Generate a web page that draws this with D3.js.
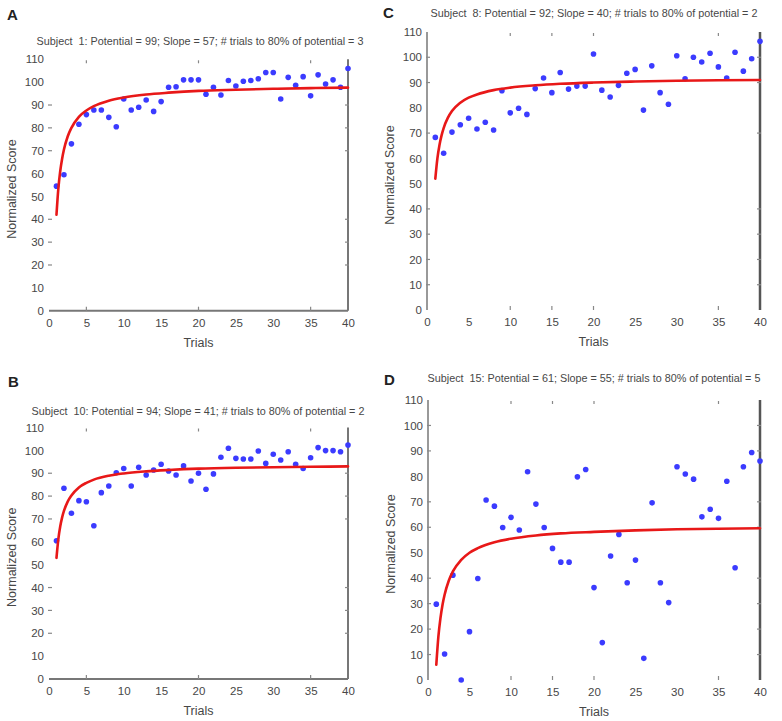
<!DOCTYPE html>
<html>
<head>
<meta charset="utf-8">
<script src="https://cdn.jsdelivr.net/npm/d3@7"></script>
<style>
  html, body { margin: 0; padding: 0; background: #fff; }
  svg { display: block; }
  text { font-family: "Liberation Sans", Arial, sans-serif; }
</style>
</head>
<body>
<svg id="chart" width="782" height="721"></svg>
<script>
// ---------- DATA ----------
const trials = [1,2,3,4,5,6,7,8,9,10,11,12,13,14,15,16,17,18,19,20,
                21,22,23,24,25,26,27,28,29,30,31,32,33,34,35,36,37,38,39,40];

const scoresA = [54.5,59.5,73,81.6,85.8,87.8,87.8,84.6,80.5,92.6,87.8,89,92.2,87.2,91.5,97.8,98,101,101,101,
                 94.7,97.8,94.4,100.7,98.3,100.4,100.7,101.5,104.2,104.2,92.6,102.1,98.6,102.4,94,103.2,99.2,101,97.8,106];
const scoresB = [60.5,83.4,72.5,78,77.5,67,81.5,84.4,90.2,92.1,84.4,92.6,89.2,91.4,93.9,91,89.2,93.2,86.6,90,
                 83,89.7,97,100.9,96.5,96.2,96.2,99.7,94.3,98.3,95.8,99.4,93.9,92.1,96.8,101.2,99.9,99.9,99.4,102.3];
const scoresC = [68.3,62,70.4,73.3,75.9,71.6,74.3,71.2,86.8,78,79.8,77.4,87.6,91.8,86,94,87.4,88.6,88.6,101.3,
                 87,84.3,88.9,93.7,95.2,79.1,96.6,86,81.4,100.6,91.5,100,98.1,101.6,96.2,91.8,102,94.5,99.4,106.3];
const scoresD = [29.8,10.2,41.2,0,19,39.9,70.7,68.3,59.9,63.9,58.9,81.8,69.1,59.9,51.7,46.3,46.3,79.8,82.7,36.3,
                 14.7,48.7,57.2,38.2,47.1,8.5,69.6,38.2,30.4,83.8,80.9,78.9,64.1,67.1,63.5,78.1,44.1,83.8,89.4,86];

// fitted learning curves (red lines) at these trials
const fitTrials = [1,1.25,1.5,1.75,2,2.5,3,4,5,6,8,10,13,16,20,25,30,35,40];
const fitA = [42,53.4,61,66.4,70.5,76.2,80,84.8,87.6,89.5,91.9,93.3,94.6,95.4,96.2,96.7,97.1,97.4,97.6];
const fitB = [53,61.2,66.7,70.6,73.5,77.6,80.3,83.8,85.8,87.2,88.9,89.9,90.8,91.4,92,92.4,92.6,92.8,93];
const fitC = [52,60,65.3,69.1,72,76,78.7,82,84,85.3,87,88,88.9,89.5,90,90.4,90.7,90.9,91];
const fitD = [6,17,24.3,29.6,33.5,39,42.7,47.2,50,51.8,54.1,55.5,56.8,57.6,58.2,58.8,59.2,59.4,59.6];

const panelLetters = ["A","B","C","D"];
const panelTitles = [
  "Subject  1: Potential = 99; Slope = 57; # trials to 80% of potential = 3",
  "Subject  10: Potential = 94; Slope = 41; # trials to 80% of potential = 2",
  "Subject  8: Potential = 92; Slope = 40; # trials to 80% of potential = 2",
  "Subject  15: Potential = 61; Slope = 55; # trials to 80% of potential = 5"
];
const yTickLabels = [0,10,20,30,40,50,60,70,80,90,100,110];
const xTickLabels = [0,5,10,15,20,25,30,35,40];
const xAxisTitle = "Trials";
const yAxisTitle = "Normalized Score";

// ---------- LAYOUT ----------
const panels = [
  { scores: scoresA, fit: fitA, x0: 49, x1: 348, yT: 59.3, yB: 310.7, letterX: 7, letterY: 20,
    titleX: 200, titleY: 45, style: "AB", markX: [5,20,35], markY: [20,30,40,70,80,90] },
  { scores: scoresB, fit: fitB, x0: 49, x1: 348, yT: 427.5, yB: 679, letterX: 8, letterY: 387,
    titleX: 198, titleY: 415, style: "AB", markX: [5,20,35], markY: [20,30,40,70,80,90] },
  { scores: scoresC, fit: fitC, x0: 427, x1: 760, yT: 32, yB: 310, letterX: 383, letterY: 18,
    titleX: 594, titleY: 17, style: "CD", markX: [10,15,20,35], markY: [10,20,30,40,70,90,100] },
  { scores: scoresD, fit: fitD, x0: 428, x1: 760, yT: 400, yB: 680, letterX: 384, letterY: 385,
    titleX: 594, titleY: 382, style: "CD", markX: [10,15,20,35], markY: [10,20,30,40,60,70,90,100] }
];

const svg = d3.select("#chart");
const textColor = "#474747";

panels.forEach((p, i) => {
  const x = d3.scaleLinear().domain([0, 40]).range([p.x0, p.x1]);
  const y = d3.scaleLinear().domain([0, 110]).range([p.yB, p.yT]);
  const g = svg.append("g");

  // panel letter
  g.append("text").attr("x", p.letterX).attr("y", p.letterY)
    .attr("font-size", 15).attr("font-weight", "bold").attr("fill", "#222")
    .text(panelLetters[i]);

  // title
  g.append("text").attr("x", p.titleX).attr("y", p.titleY)
    .attr("text-anchor", "middle").attr("font-size", 10.8).attr("fill", textColor)
    .style("white-space", "pre")
    .text(panelTitles[i]);

  // y axis (labels only, via d3 axis)
  const yAxis = d3.axisLeft(y).tickValues(yTickLabels).tickSize(0).tickPadding(5);
  const yg = g.append("g").attr("transform", `translate(${p.x0},0)`).call(yAxis);
  yg.select(".domain").remove();
  yg.selectAll("text").attr("font-size", 11.5).attr("fill", textColor)
    .style("font-family", "'Liberation Sans', Arial, sans-serif");

  // x axis labels
  const xAxis = d3.axisBottom(x).tickValues(xTickLabels).tickSize(0).tickPadding(8);
  const xg = g.append("g").attr("transform", `translate(0,${p.yB})`).call(xAxis);
  xg.select(".domain").remove();
  xg.selectAll("text").attr("font-size", 11.5).attr("fill", textColor)
    .style("font-family", "'Liberation Sans', Arial, sans-serif");

  // axis lines
  if (p.style === "AB") {
    g.append("line").attr("x1", p.x0).attr("x2", p.x1).attr("y1", p.yB).attr("y2", p.yB)
      .attr("stroke", "#777").attr("stroke-width", 2);
    g.append("line").attr("x1", p.x1).attr("x2", p.x1).attr("y1", p.yT).attr("y2", p.yB)
      .attr("stroke", "#777").attr("stroke-width", 2);
  } else {
    g.append("line").attr("x1", p.x0).attr("x2", p.x0).attr("y1", p.yT).attr("y2", p.yB)
      .attr("stroke", "#777").attr("stroke-width", 1.5);
    g.append("line").attr("x1", p.x1).attr("x2", p.x1).attr("y1", p.yT).attr("y2", p.yB)
      .attr("stroke", "#555").attr("stroke-width", 2.5);
  }

  // tick marks (faint)
  p.markY.forEach(v => {
    g.append("line").attr("x1", p.x0 - 1).attr("x2", p.x0 + 3).attr("y1", y(v)).attr("y2", y(v))
      .attr("stroke", "#888").attr("stroke-width", 1.2);
    g.append("line").attr("x1", p.x1 - 3).attr("x2", p.x1 + 1).attr("y1", y(v)).attr("y2", y(v))
      .attr("stroke", "#888").attr("stroke-width", 1.2);
  });
  p.markX.forEach(v => {
    g.append("line").attr("x1", x(v)).attr("x2", x(v)).attr("y1", p.yT + 1).attr("y2", p.yT + 4)
      .attr("stroke", "#888").attr("stroke-width", 1.2);
    g.append("line").attr("x1", x(v)).attr("x2", x(v)).attr("y1", p.yB - 4).attr("y2", p.yB)
      .attr("stroke", "#888").attr("stroke-width", 1.2);
  });

  // axis titles
  g.append("text").attr("x", (p.x0 + p.x1) / 2).attr("y", p.yB + 36)
    .attr("text-anchor", "middle").attr("font-size", 12.5).attr("fill", textColor)
    .text(xAxisTitle);
  const ylx = p.x0 - 33;
  const yly = (p.yT + p.yB) / 2 + 4;
  g.append("text").attr("transform", `translate(${ylx},${yly}) rotate(-90)`)
    .attr("text-anchor", "middle").attr("font-size", 12.5).attr("fill", textColor)
    .text(yAxisTitle);

  // data points
  g.selectAll("circle.pt").data(trials).enter().append("circle")
    .attr("class", "pt")
    .attr("cx", d => x(d)).attr("cy", (d, j) => y(p.scores[j]))
    .attr("r", 2.8).attr("fill", "#3b3bff");

  // fit curve
  const line = d3.line().x(d => x(d[0])).y(d => y(d[1])).curve(d3.curveMonotoneX);
  g.append("path").datum(fitTrials.map((t, j) => [t, p.fit[j]]))
    .attr("d", line).attr("fill", "none").attr("stroke", "#e81818")
    .attr("stroke-width", 2.6).attr("stroke-linecap", "round");
});
</script>
</body>
</html>
